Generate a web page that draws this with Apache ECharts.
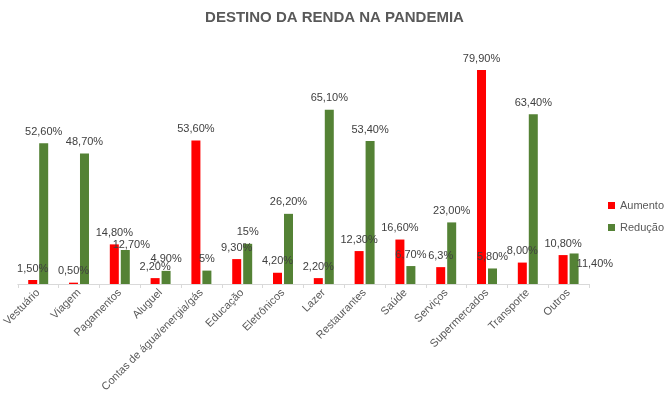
<!DOCTYPE html>
<html>
<head>
<meta charset="utf-8">
<script src="https://cdn.jsdelivr.net/npm/echarts@6/dist/echarts.min.js"></script>
<style>
    html, body { margin: 0; padding: 0; background: #fff; }
    #chart { width: 669px; height: 397px; }
</style>
</head>
<body>
<div id="chart"></div>
<script>
//--------------------------------
// Data
//--------------------------------
const categories = ['Vestuário', 'Viagem', 'Pagamentos', 'Aluguel', 'Contas de água/energia/gás', 'Educação',
    'Eletrônicos', 'Lazer', 'Restaurantes', 'Saúde', 'Serviços', 'Supermercados', 'Transporte', 'Outros'];
const aumento = [1.5, 0.5, 14.8, 2.2, 53.6, 9.3, 4.2, 2.2, 12.3, 16.6, 6.3, 79.9, 8.0, 10.8];
const reducao = [52.6, 48.7, 12.7, 4.9, 5, 15, 26.2, 65.1, 53.4, 6.7, 23.0, 5.8, 63.4, 11.4];
const aumentoLabels = ['1,50%', '0,50%', '14,80%', '2,20%', '53,60%', '9,30%', '4,20%', '2,20%', '12,30%',
    '16,60%', '6,3%', '79,90%', '8,00%', '10,80%'];
const reducaoLabels = ['52,60%', '48,70%', '12,70%', '4,90%', '5%', '15%', '26,20%', '65,10%', '53,40%',
    '6,70%', '23,00%', '5,80%', '63,40%', '11,40%'];

//--------------------------------
// Chart
//--------------------------------
const FONT = '"Liberation Sans", Arial, sans-serif';
var myChart = echarts.init(document.getElementById('chart'));

const makeData = (values, labels, special) => {
    return values.map((v, i) => {
        let item = { value: v, labelText: labels[i] };
        if (special[i]) {
            item.label = special[i];
        }
        return item;
    });
};

// a few labels sit off the bar top in the original
const reducaoSpecial = {
    2: { offset: [6, 6] },
    13: { position: 'right', distance: 0, offset: [-2, -5] }
};

let options = {
    animation: false,
    title: {
        text: 'DESTINO DA RENDA NA PANDEMIA',
        left: 'center',
        top: 5,
        textStyle: {
            fontFamily: FONT,
            fontSize: 15,
            fontWeight: 'bold',
            color: '#595959'
        }
    },
    legend: {
        orient: 'vertical',
        left: 603,
        top: 195,
        itemWidth: 7,
        itemHeight: 7,
        itemGap: 11,
        icon: 'rect',
        textStyle: {
            fontFamily: FONT,
            fontSize: 11,
            color: '#595959'
        },
        data: ['Aumento', 'Redução']
    },
    grid: {
        left: 11,
        right: 80,
        top: 43,
        bottom: 113
    },
    xAxis: {
        type: 'category',
        data: categories,
        axisLine: { lineStyle: { color: '#d9d9d9' } },
        axisTick: { show: true, length: 4, lineStyle: { color: '#d9d9d9' } },
        axisLabel: {
            interval: 0,
            rotate: 45,
            margin: 7,
            fontFamily: FONT,
            fontSize: 11,
            color: '#595959'
        }
    },
    yAxis: {
        type: 'value',
        min: 0,
        max: 90,
        show: false,
        splitLine: { show: false }
    },
    series: [
        {
            name: 'Aumento',
            type: 'bar',
            barWidth: 9,
            barGap: '22%',
            itemStyle: { color: '#ff0000' },
            label: {
                show: true,
                position: 'top',
                distance: 6,
                fontFamily: FONT,
                fontSize: 11,
                color: '#404040',
                formatter: (p) => p.data.labelText
            },
            data: makeData(aumento, aumentoLabels, {})
        },
        {
            name: 'Redução',
            type: 'bar',
            barWidth: 9,
            barGap: '22%',
            itemStyle: { color: '#548235' },
            label: {
                show: true,
                position: 'top',
                distance: 6,
                fontFamily: FONT,
                fontSize: 11,
                color: '#404040',
                formatter: (p) => p.data.labelText
            },
            data: makeData(reducao, reducaoLabels, reducaoSpecial)
        }
    ]
};
myChart.setOption(options);
</script>
</body>
</html>
